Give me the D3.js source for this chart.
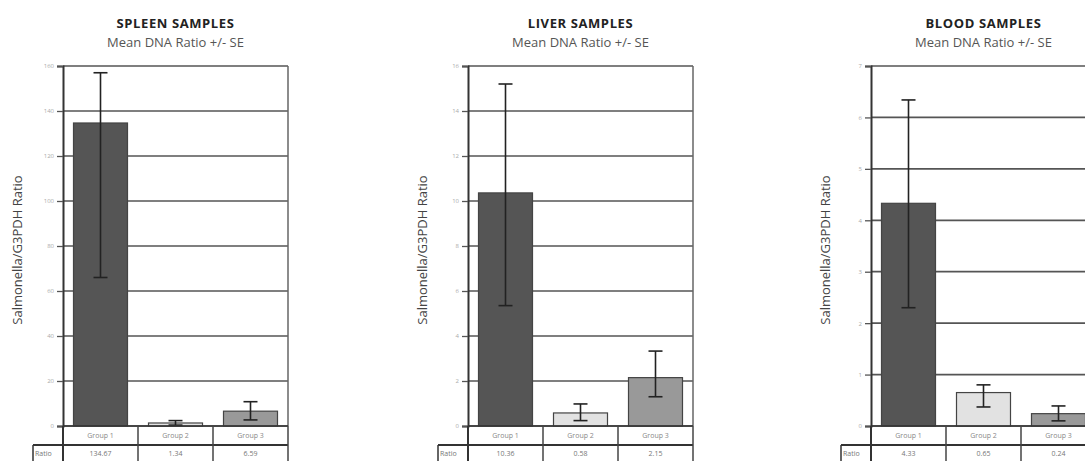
<!DOCTYPE html>
<html>
<head>
  <meta charset='utf-8'>
  <style>
    body { margin: 0; background: #fff; }
    text { font-family: "Open Sans", "Noto Sans", sans-serif; }
  </style>
  <script src='https://cdn.jsdelivr.net/npm/d3@7'></script>
</head>
<body>
  <script>
    // data
    const groups = ["Group 1", "Group 2", "Group 3"]
    const panelTitles = ["SPLEEN SAMPLES", "LIVER SAMPLES", "BLOOD SAMPLES"]
    const spleenMeans = [134.67, 1.34, 6.59]
    const spleenLow = [66, 0.4, 2.7]
    const spleenHigh = [157, 2.4, 10.8]
    const liverMeans = [10.36, 0.58, 2.15]
    const liverLow = [5.35, 0.24, 1.3]
    const liverHigh = [15.2, 0.98, 3.33]
    const bloodMeans = [4.33, 0.65, 0.24]
    const bloodLow = [2.3, 0.37, 0.1]
    const bloodHigh = [6.34, 0.8, 0.39]
    const spleenTicks = [0, 20, 40, 60, 80, 100, 120, 140, 160]
    const liverTicks = [0, 2, 4, 6, 8, 10, 12, 14, 16]
    const bloodTicks = [0, 1, 2, 3, 4, 5, 6, 7]
    const ratioLabels = [["134.67", "1.34", "6.59"], ["10.36", "0.58", "2.15"], ["4.33", "0.65", "0.24"]]
    const barColors = ["#555555", "#e2e2e2", "#999999"]

    const [width, height] = [1085, 461]
    const svg = d3.select("body").append("svg")
      .attr("width", width).attr("height", height)

    const panels = [
      { title: panelTitles[0], means: spleenMeans, low: spleenLow, high: spleenHigh, ticks: spleenTicks, left: 63, labels: ratioLabels[0] },
      { title: panelTitles[1], means: liverMeans, low: liverLow, high: liverHigh, ticks: liverTicks, left: 468, labels: ratioLabels[1] },
      { title: panelTitles[2], means: bloodMeans, low: bloodLow, high: bloodHigh, ticks: bloodTicks, left: 871, labels: ratioLabels[2] },
    ]

    const plotTop = 66, plotBottom = 426, plotW = 225

    panels.forEach(p => {
      const g = svg.append("g")
      const x = d3.scaleBand(groups, [p.left, p.left + plotW]).paddingInner(0.28).paddingOuter(0.14)
      const xCol = d3.scaleBand(groups, [p.left, p.left + plotW])
      const y = d3.scaleLinear([0, d3.max(p.ticks)], [plotBottom, plotTop])

      // titles
      g.append("text").attr("x", p.left + plotW / 2).attr("y", 28)
        .attr("text-anchor", "middle").attr("font-size", 13).attr("font-weight", "bold")
        .attr("fill", "#222").attr("letter-spacing", 0.6).text(p.title)
      g.append("text").attr("x", p.left + plotW / 2).attr("y", 47)
        .attr("text-anchor", "middle").attr("font-size", 13)
        .attr("fill", "#555").text("Mean DNA Ratio +/- SE")

      // gridlines
      g.append("g").selectAll("line").data(p.ticks).join("line")
        .attr("x1", p.left).attr("x2", p.left + plotW)
        .attr("y1", d => y(d)).attr("y2", d => y(d))
        .attr("stroke", "#555").attr("stroke-width", 1.7)

      // y axis
      const yAxis = g.append("g").attr("transform", `translate(${p.left},0)`)
        .call(d3.axisLeft(y).tickValues(p.ticks).tickFormat(d3.format("d")).tickSize(6).tickPadding(3))
      yAxis.select(".domain").attr("stroke", "#333").attr("stroke-width", 2)
      yAxis.selectAll(".tick line").attr("stroke", "#555").attr("stroke-width", 1.3)
      yAxis.selectAll(".tick text").attr("font-size", 6).attr("fill", "#aaa")
        .attr("font-family", "Open Sans, sans-serif")

      // right border
      g.append("line").attr("x1", p.left + plotW).attr("x2", p.left + plotW)
        .attr("y1", plotTop).attr("y2", plotBottom).attr("stroke", "#666").attr("stroke-width", 1.5)

      // y label
      g.append("text")
        .attr("transform", `translate(${p.left - 41},250) rotate(-90)`)
        .attr("text-anchor", "middle").attr("font-size", 13).attr("fill", "#444")
        .text("Salmonella/G3PDH Ratio")

      // bars
      g.append("g").selectAll("rect").data(groups).join("rect")
        .attr("x", d => x(d)).attr("width", x.bandwidth())
        .attr("y", (d, i) => y(p.means[i]))
        .attr("height", (d, i) => plotBottom - y(p.means[i]))
        .attr("fill", (d, i) => barColors[i])
        .attr("stroke", "#444").attr("stroke-width", 1.2)

      // error bars
      const eb = g.append("g").attr("stroke", "#222").attr("stroke-width", 1.6)
      groups.forEach((d, i) => {
        const cx = x(d) + x.bandwidth() / 2
        eb.append("line").attr("x1", cx).attr("x2", cx).attr("y1", y(p.low[i])).attr("y2", y(p.high[i]))
        eb.append("line").attr("x1", cx - 7).attr("x2", cx + 7).attr("y1", y(p.low[i])).attr("y2", y(p.low[i]))
        eb.append("line").attr("x1", cx - 7).attr("x2", cx + 7).attr("y1", y(p.high[i])).attr("y2", y(p.high[i]))
      })

      // data table under the plot
      const tb = g.append("g")
      const row1 = plotBottom, row2 = 445, row3 = 466
      tb.append("line").attr("x1", p.left).attr("x2", p.left + plotW).attr("y1", row1).attr("y2", row1)
        .attr("stroke", "#333").attr("stroke-width", 1.5)
      tb.append("line").attr("x1", p.left - 30).attr("x2", p.left + plotW).attr("y1", row2).attr("y2", row2)
        .attr("stroke", "#333").attr("stroke-width", 2)
      tb.append("line").attr("x1", p.left).attr("x2", p.left).attr("y1", row1).attr("y2", row3)
        .attr("stroke", "#333").attr("stroke-width", 2)
      tb.append("line").attr("x1", p.left - 30).attr("x2", p.left - 30).attr("y1", row2).attr("y2", row3)
        .attr("stroke", "#333").attr("stroke-width", 1.5)
      tb.selectAll(".sep").data(groups.slice(1).concat(["end"])).join("line")
        .attr("x1", d => d === "end" ? p.left + plotW : xCol(d))
        .attr("x2", d => d === "end" ? p.left + plotW : xCol(d))
        .attr("y1", row1).attr("y2", row3)
        .attr("stroke", "#444").attr("stroke-width", 1.5)
      tb.selectAll(".gl").data(groups).join("text")
        .attr("x", d => xCol(d) + xCol.bandwidth() / 2).attr("y", 438)
        .attr("text-anchor", "middle").attr("font-size", 7).attr("fill", "#888").text(d => d)
      tb.selectAll(".rl").data(p.labels).join("text")
        .attr("x", (d, i) => xCol(groups[i]) + xCol.bandwidth() / 2).attr("y", 456)
        .attr("text-anchor", "middle").attr("font-size", 7).attr("fill", "#777").text(d => d)
      tb.append("text").attr("x", p.left - 28).attr("y", 456)
        .attr("font-size", 7).attr("fill", "#777").text("Ratio")
    })
  </script>
</body>
</html>
